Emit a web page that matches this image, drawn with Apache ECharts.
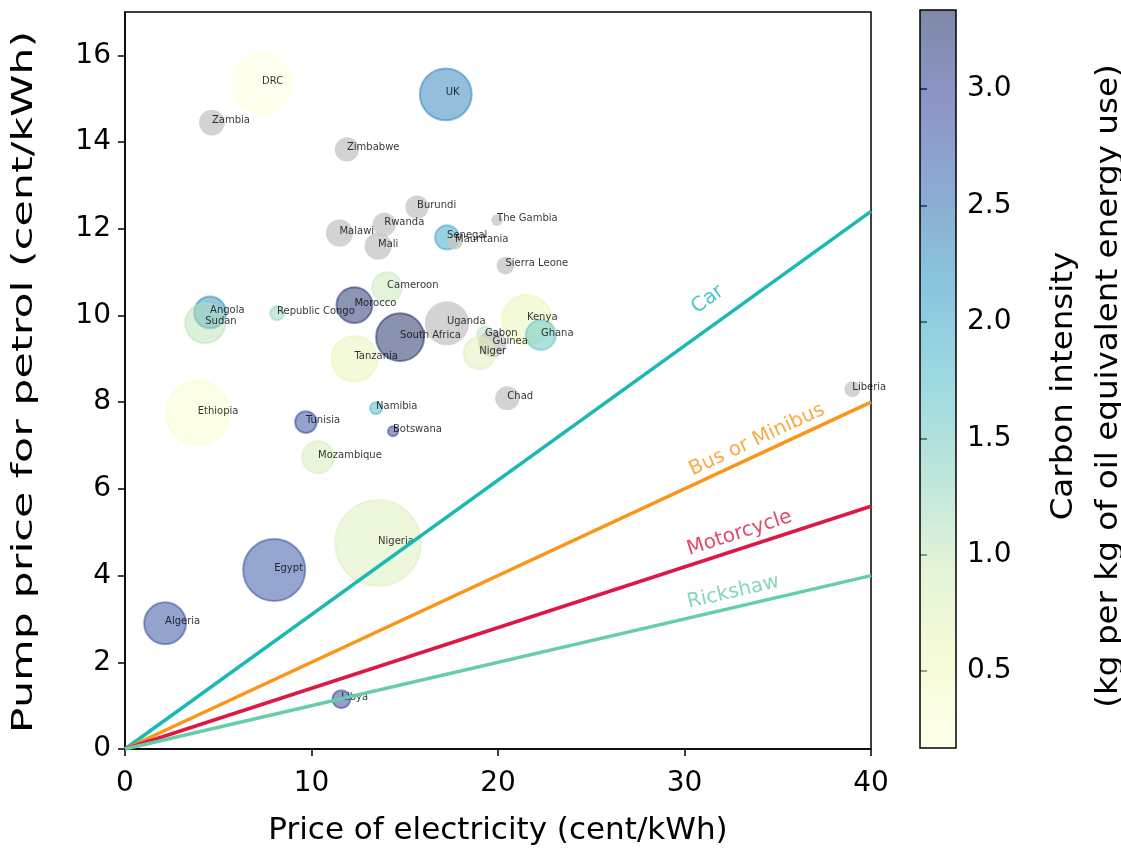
<!DOCTYPE html>
<html>
<head>
<meta charset="utf-8">
<script src="https://cdn.jsdelivr.net/npm/echarts@6/dist/echarts.min.js"></script>
<style>html,body{margin:0;padding:0;background:#fff;}#c{width:1121px;height:853px;}</style>
</head>
<body>
<div id="c"></div>
<script>
// ---------------- data ----------------
const countries = ['DRC','UK','Zambia','Zimbabwe','Burundi','Rwanda','Malawi','Mali','Senegal','Mauritania',
  'The Gambia','Sierra Leone','Cameroon','Morocco','Republic Congo','Angola','Sudan','South Africa','Uganda','Tanzania',
  'Gabon','Guinea','Niger','Kenya','Ghana','Ethiopia','Tunisia','Namibia','Botswana','Mozambique',
  'Chad','Liberia','Nigeria','Egypt','Algeria','Libya'];
const elecPrice = [7.35,17.2,4.66,11.9,15.66,13.9,11.5,13.57,17.27,17.7,
  19.95,20.4,14.05,12.3,8.15,4.56,4.3,14.75,17.26,12.3,
  19.3,19.7,19.0,21.55,22.3,3.9,9.7,13.46,14.37,10.35,
  20.5,39.0,13.57,8.0,2.15,11.6];
const petrolPrice = [15.35,15.1,14.45,13.83,12.5,12.1,11.9,11.6,11.8,11.7,
  12.2,11.15,10.65,10.24,10.05,10.07,9.82,9.5,9.82,9.0,
  9.55,9.35,9.13,9.9,9.55,7.75,7.54,7.86,7.33,6.73,
  8.09,8.3,4.75,4.13,2.9,1.15];
// null = no carbon-intensity data (grey bubble)
const carbonIntensity = [0.17,2.33,null,null,null,null,null,null,2.0,null,
  null,null,0.96,3.25,1.28,2.23,1.06,3.34,null,0.65,
  1.05,null,0.74,0.62,1.6,0.33,2.86,1.75,2.96,0.87,
  null,null,0.8,2.8,2.86,2.96];
const population = [92,69,17,15,14,14,19,19,15,6,
  3.5,8,23,33,5,26,41,59,50,54,
  6.6,20,26,64,23,105,12,3.7,2.6,26,
  15,6.6,190,99,45,8.3];

const modes = ['Car','Bus or Minibus','Motorcycle','Rickshaw'];
const modePetrolAt40 = [12.4, 8.0, 5.6, 4.0];   // petrol price at 40 cent/kWh electricity
const modeLabelX = [32.0, 34.2, 33.2, 32.8];

const xTicks = [0,10,20,30,40];
const yTicks = [0,2,4,6,8,10,12,14,16];
const cbarTicks = [0.5,1.0,1.5,2.0,2.5,3.0];

// ---------------- styling / layout ----------------
const FONT = 'DejaVu Sans';
const modeColors = ['#1cb9b4','#f9961a','#dc1843','#66cdaa'];
const modeLabelLift = [24, 14, 15, 15];
const YlGnBu = ['#ffffd9','#edf8b1','#c7e9b4','#7fcdbb','#41b6c4','#1d91c0','#225ea8','#253494','#081d58'];
const ALPHA_PT = 0.6, ALPHA_CB = 0.52;
const G = {left:125, top:12, width:746, height:737};
const CB = {left:920, top:10, width:36, height:738};

function hex2rgb(h){return [parseInt(h.substr(1,2),16),parseInt(h.substr(3,2),16),parseInt(h.substr(5,2),16)];}
function cmap(t,a){
  t=Math.max(0,Math.min(1,t));
  const n=YlGnBu.length-1, p=t*n, i=Math.min(n-1,Math.floor(p)), f=p-i;
  const c0=hex2rgb(YlGnBu[i]), c1=hex2rgb(YlGnBu[i+1]);
  const c=c0.map((v,k)=>Math.round(v+(c1[k]-v)*f));
  return 'rgba('+c[0]+','+c[1]+','+c[2]+','+a+')';
}
const valid = carbonIntensity.filter(v=>v!==null);
const cMin = Math.min.apply(null,valid), cMax = Math.max.apply(null,valid);

const bubbleData = countries.map((name,i)=>{
  const c = carbonIntensity[i];
  let style;
  if (c===null) style = {color:'#c8c8c8', borderWidth:0};
  else { const col = cmap((c-cMin)/(cMax-cMin), ALPHA_PT); style = {color:col, borderColor:col, borderWidth:2}; }
  return {name:name, value:[elecPrice[i], petrolPrice[i], c===null?'-':c, population[i]], itemStyle:style};
});

const yRange = 17, xRange = 40;
const lineSeries = modes.map((m,i)=>({
  type:'line', name:m, data:[[0,0],[40,modePetrolAt40[i]]], showSymbol:false, symbol:'none',
  lineStyle:{color:modeColors[i], width:3.5}, z:3, silent:true, animation:false
}));
const labelSeries = modes.map((m,i)=>{
  const slope = modePetrolAt40[i]/40;
  const ang = Math.atan(slope*(G.height/yRange)/(G.width/xRange))*180/Math.PI;
  return {
    type:'scatter', symbolSize:0, silent:true, z:4, animation:false,
    data:[{name:m, value:[modeLabelX[i], slope*modeLabelX[i]]}],
    label:{show:true, formatter:'{b}', position:'inside', rotate:ang, offset:[0,-modeLabelLift[i]],
      color:modeColors[i], fontSize:20, fontFamily:FONT}
  };
});

const stops = [];
for (let k=0;k<=40;k++){ const t=k/40; stops.push({offset:1-t, color:cmap(t,ALPHA_CB)}); }
stops.sort((a,b)=>a.offset-b.offset);

const chart = echarts.init(document.getElementById('c'), null, {renderer:'canvas'});
chart.setOption({
  backgroundColor:'#fff',
  animation:false,
  grid:[
    {left:G.left, top:G.top, width:G.width, height:G.height, show:true, borderColor:'#000', borderWidth:1.5, backgroundColor:'transparent'},
    {left:CB.left, top:CB.top, width:CB.width, height:CB.height, show:false}
  ],
  xAxis:[
    {type:'value', gridIndex:0, min:0, max:40, interval:10,
     name:'Price of electricity (cent/kWh)', nameLocation:'middle', nameGap:66,
     nameTextStyle:{fontSize:31, fontFamily:FONT, color:'#000'},
     axisLine:{lineStyle:{color:'#000', width:1.5}}, axisTick:{length:7, lineStyle:{color:'#000', width:1.5}},
     axisLabel:{fontSize:28, fontFamily:FONT, color:'#000', margin:21, customValues:xTicks}, splitLine:{show:false}},
    {type:'value', gridIndex:1, min:0, max:1, show:false}
  ],
  yAxis:[
    {type:'value', gridIndex:0, min:0, max:17, interval:2,
     axisLine:{lineStyle:{color:'#000', width:1.5}}, axisTick:{length:7, lineStyle:{color:'#000', width:1.5}, customValues:yTicks},
     axisLabel:{fontSize:28, fontFamily:FONT, color:'#000', margin:14, customValues:yTicks}, splitLine:{show:false}},
    {type:'value', gridIndex:1, min:cMin, max:cMax, position:'right',
     axisLine:{show:false}, axisTick:{show:true, length:7, lineStyle:{color:'#000', width:1.5}, customValues:cbarTicks},
     axisLabel:{fontSize:28, fontFamily:FONT, color:'#000', margin:11, customValues:cbarTicks, formatter:v=>v.toFixed(1)},
     splitLine:{show:false}}
  ],
  series:[
    {type:'scatter', xAxisIndex:0, yAxisIndex:0, z:2, animation:false,
     data:bubbleData,
     symbolSize:function(v){return 6.24*Math.sqrt(v[3]);},
     label:{show:true, formatter:'{b}', position:'inside', align:'left', verticalAlign:'middle', offset:[0,-2],
       fontSize:10, fontFamily:FONT, color:'#000'},
     emphasis:{disabled:true}},
    ...lineSeries,
    ...labelSeries
  ],
  graphic:[
    {type:'rect', z:1, shape:{x:CB.left, y:CB.top, width:CB.width, height:CB.height},
     style:{fill:new echarts.graphic.LinearGradient(0,0,0,1,stops), stroke:'#000', lineWidth:1.5}},
    {type:'text', x:25, y:382, rotation:Math.PI/2, scaleX:1.53,
     style:{text:'Pump price for petrol (cent/kWh)', font:'28px "'+FONT+'"', fill:'#000', textAlign:'center', textVerticalAlign:'middle'}},
    {type:'text', x:1086, y:386, rotation:Math.PI/2, scaleX:1.05,
     style:{text:'Carbon intensity\n(kg per kg of oil equivalent energy use)', font:'31px "'+FONT+'"', lineHeight:45, fill:'#000', align:'center', verticalAlign:'middle', textAlign:'center', textVerticalAlign:'middle'}}
  ]
});
</script>
</body>
</html>
